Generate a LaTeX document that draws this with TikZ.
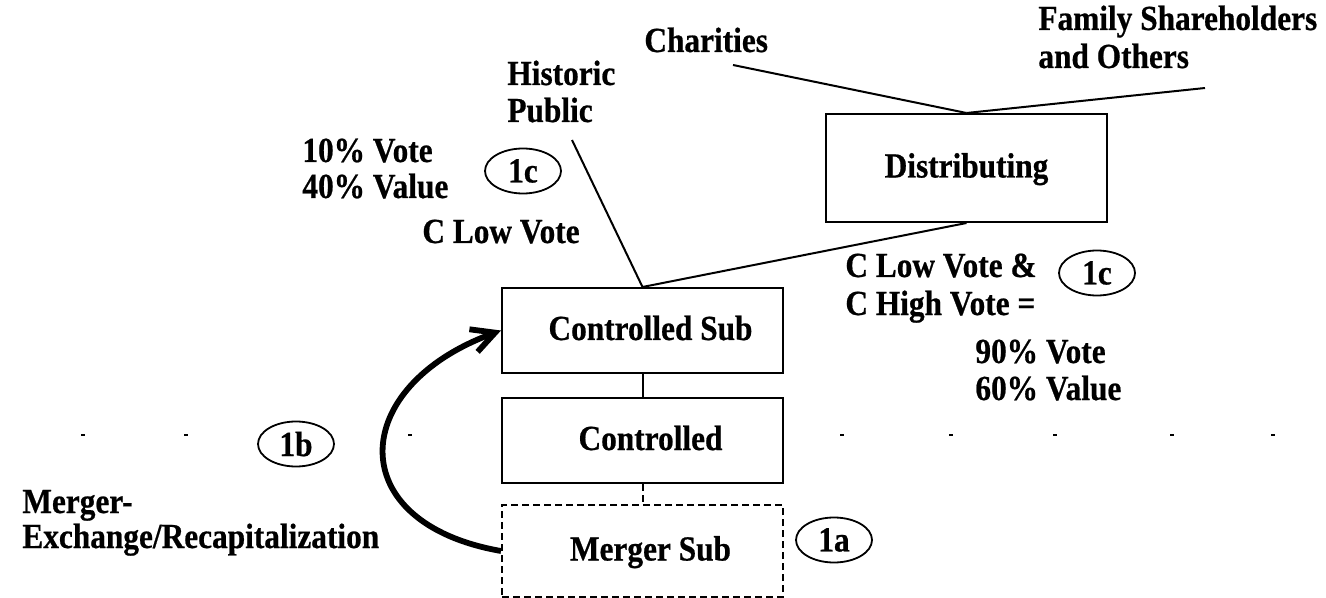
\documentclass[tikz,border=0pt]{standalone}
\usepackage{fontspec}
\setmainfont{Liberation Serif}[FakeStretch=0.89,BoldFeatures={FakeBold=0.6}]
\usetikzlibrary{shapes.geometric,arrows.meta}
\begin{document}
\begin{tikzpicture}[x=0.5pt,y=-0.5pt,
  every node/.style={font=\fontsize{17.6}{20}\selectfont\bfseries},
  entity/.style={draw,line width=1pt,minimum width=140.5pt,minimum height=42.5pt,
    inner sep=0pt,text height=0.95em,text depth=0pt},
  shifted/.style={execute at begin node=\hspace*{8pt}},
  dashbox/.style={dash pattern=on 3.5pt off 2pt},
  link/.style={line width=1pt},
  tag/.style={draw,ellipse,line width=0.9pt,minimum width=38pt,minimum height=22.5pt,inner sep=0pt},
  txt/.style={anchor=base west,inner sep=0pt},
  move/.style={line width=2.9pt,-{Straight Barb[length=11.5pt,width=12pt]}}]
\useasboundingbox (0,0) rectangle (1326,598);

% entities
\node[entity,shifted] (cs) at (642.5,330.5) {Controlled Sub};
\node[entity,shifted] (ctl) at (642.5,440.5) {Controlled};
\node[entity,shifted,dashbox,minimum height=46pt] (ms) at (642.5,551) {Merger Sub};
\node[entity,minimum height=54pt] (dist) at (966.5,168) {Distributing};

% shareholder labels
\node[txt] (char) at (644,52) {Charities};
\node[txt] (fam1) at (1038,30) {Family Shareholders};
\node[txt] (fam2) at (1038,68) {and Others};
\node[txt] (hist1) at (507,85) {Historic};
\node[txt] (hist2) at (507,122) {Public};

\coordinate (charEnd) at (733,65);
\coordinate (famEnd) at (1205,88);
\coordinate (histEnd) at (572,140);

% ownership lines
\draw[link] (charEnd) -- (dist.north);
\draw[link] (famEnd) -- (dist.north);
\draw[link] (histEnd) -- (cs.north);
\draw[link] (dist.south) -- (cs.north);
\draw[link] (cs.south) -- (ctl.north);
\draw[link,dashbox] (ctl.south) -- (ms.north);

% stock descriptions
\node[txt] (v10) at (302,162) {10\% Vote};
\node[txt] (v40) at (302,198) {40\% Value};
\node[txt] (low) at (422,243) {C Low Vote};
\node[txt] (lowhigh1) at (845,277) {C Low Vote \&};
\node[txt] (lowhigh2) at (845,315) {C High Vote =};
\node[txt] (v90) at (975,363) {90\% Vote};
\node[txt] (v60) at (975,400) {60\% Value};
\node[txt] (mx1) at (22,513) {Merger-};
\node[txt] (mx2) at (22,548) {Exchange/Recapitalization};

% step tags
\node[tag] (t1cl) at (523,171) {1c};
\node[tag] (t1cr) at (1097,273) {1c};
\node[tag] (t1b) at (296,444) {1b};
\node[tag] (t1a) at (834,540) {1a};

% merger exchange arrow
\draw[move] (ms.west) .. controls +(-160,-28) and +(-153,56) .. (cs.west);

% faint tick marks
\foreach \x in {83,186,410,842,951,1055,1172,1273}
  \draw[line width=0.6pt] (\x-2,435) -- (\x+2,435);
\end{tikzpicture}
\end{document}
